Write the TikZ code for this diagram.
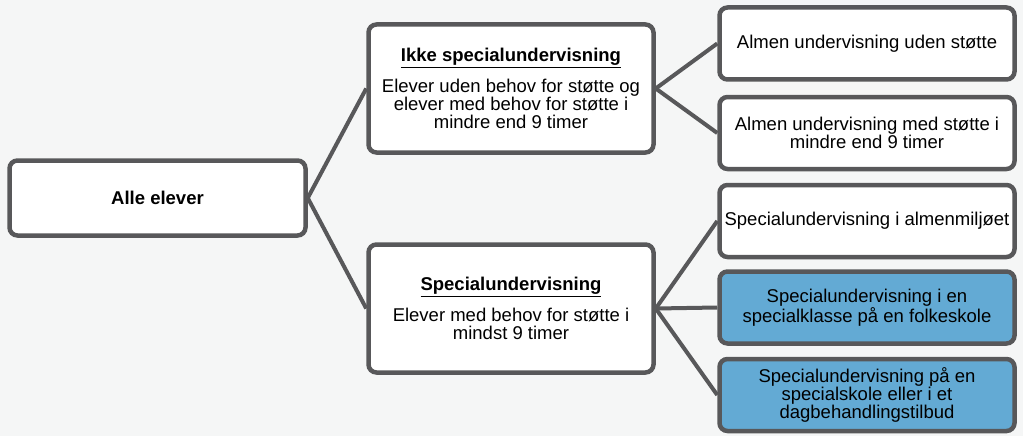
\documentclass[tikz,border=0pt]{standalone}
\usepackage{fontspec}
\setmainfont{Liberation Sans}
\usepackage{xcolor}
\definecolor{bggray}{RGB}{245,246,246}
\definecolor{boxline}{RGB}{88,88,90}
\definecolor{boxblue}{RGB}{99,170,212}

\begin{document}
\begin{tikzpicture}[x=1pt,y=-1pt,
		box/.style={shape=rectangle,draw=boxline,line width=4.5pt,rounded corners=8pt,fill=white,align=center,
			inner sep=2pt,font=\fontsize{18.5}{18}\selectfont},
		leafbox/.style={box,minimum width=295pt,minimum height=72pt},
		bluebox/.style={leafbox,fill=boxblue},
		link/.style={draw=boxline,line width=4pt}]
			\fill[bggray] (0,0) rectangle (1023,436);
			%% nodes
			\node[box,minimum width=296pt,minimum height=75pt] (alle) at (157.5,198) {\textbf{Alle elever}};
			\node[box,minimum width=285pt,minimum height=128pt] (ikke) at (511,88.5) {\underline{\textbf{Ikke specialundervisning}}\\[10pt]Elever uden behov for støtte og\\elever med behov for støtte i\\mindre end 9 timer};
			\node[box,minimum width=285pt,minimum height=128pt] (spec) at (511,308.5) {\underline{\textbf{Specialundervisning}}\\[10pt]Elever med behov for støtte i\\mindst 9 timer};
			\node[leafbox] (uden) at (867,43.5) {Almen undervisning uden støtte};
			\node[leafbox] (med) at (867,133) {Almen undervisning med støtte i\\mindre end 9 timer};
			\node[leafbox] (almen) at (867,221) {Specialundervisning i almenmiljøet};
			\node[bluebox] (klasse) at (867,307.5) {Specialundervisning i en\\specialklasse på en folkeskole};
			\node[bluebox] (skole) at (867,395) {Specialundervisning på en\\specialskole eller i et\\dagbehandlingstilbud};
			%% lines
			\draw[link] (alle.east) -- (ikke.west);
			\draw[link] (alle.east) -- (spec.west);
			\draw[link] (ikke.east) -- (uden.west);
			\draw[link] (ikke.east) -- (med.west);
			\draw[link] (spec.east) -- (almen.west);
			\draw[link] (spec.east) -- (klasse.west);
			\draw[link] (spec.east) -- (skole.west);
		\end{tikzpicture}
\end{document}
